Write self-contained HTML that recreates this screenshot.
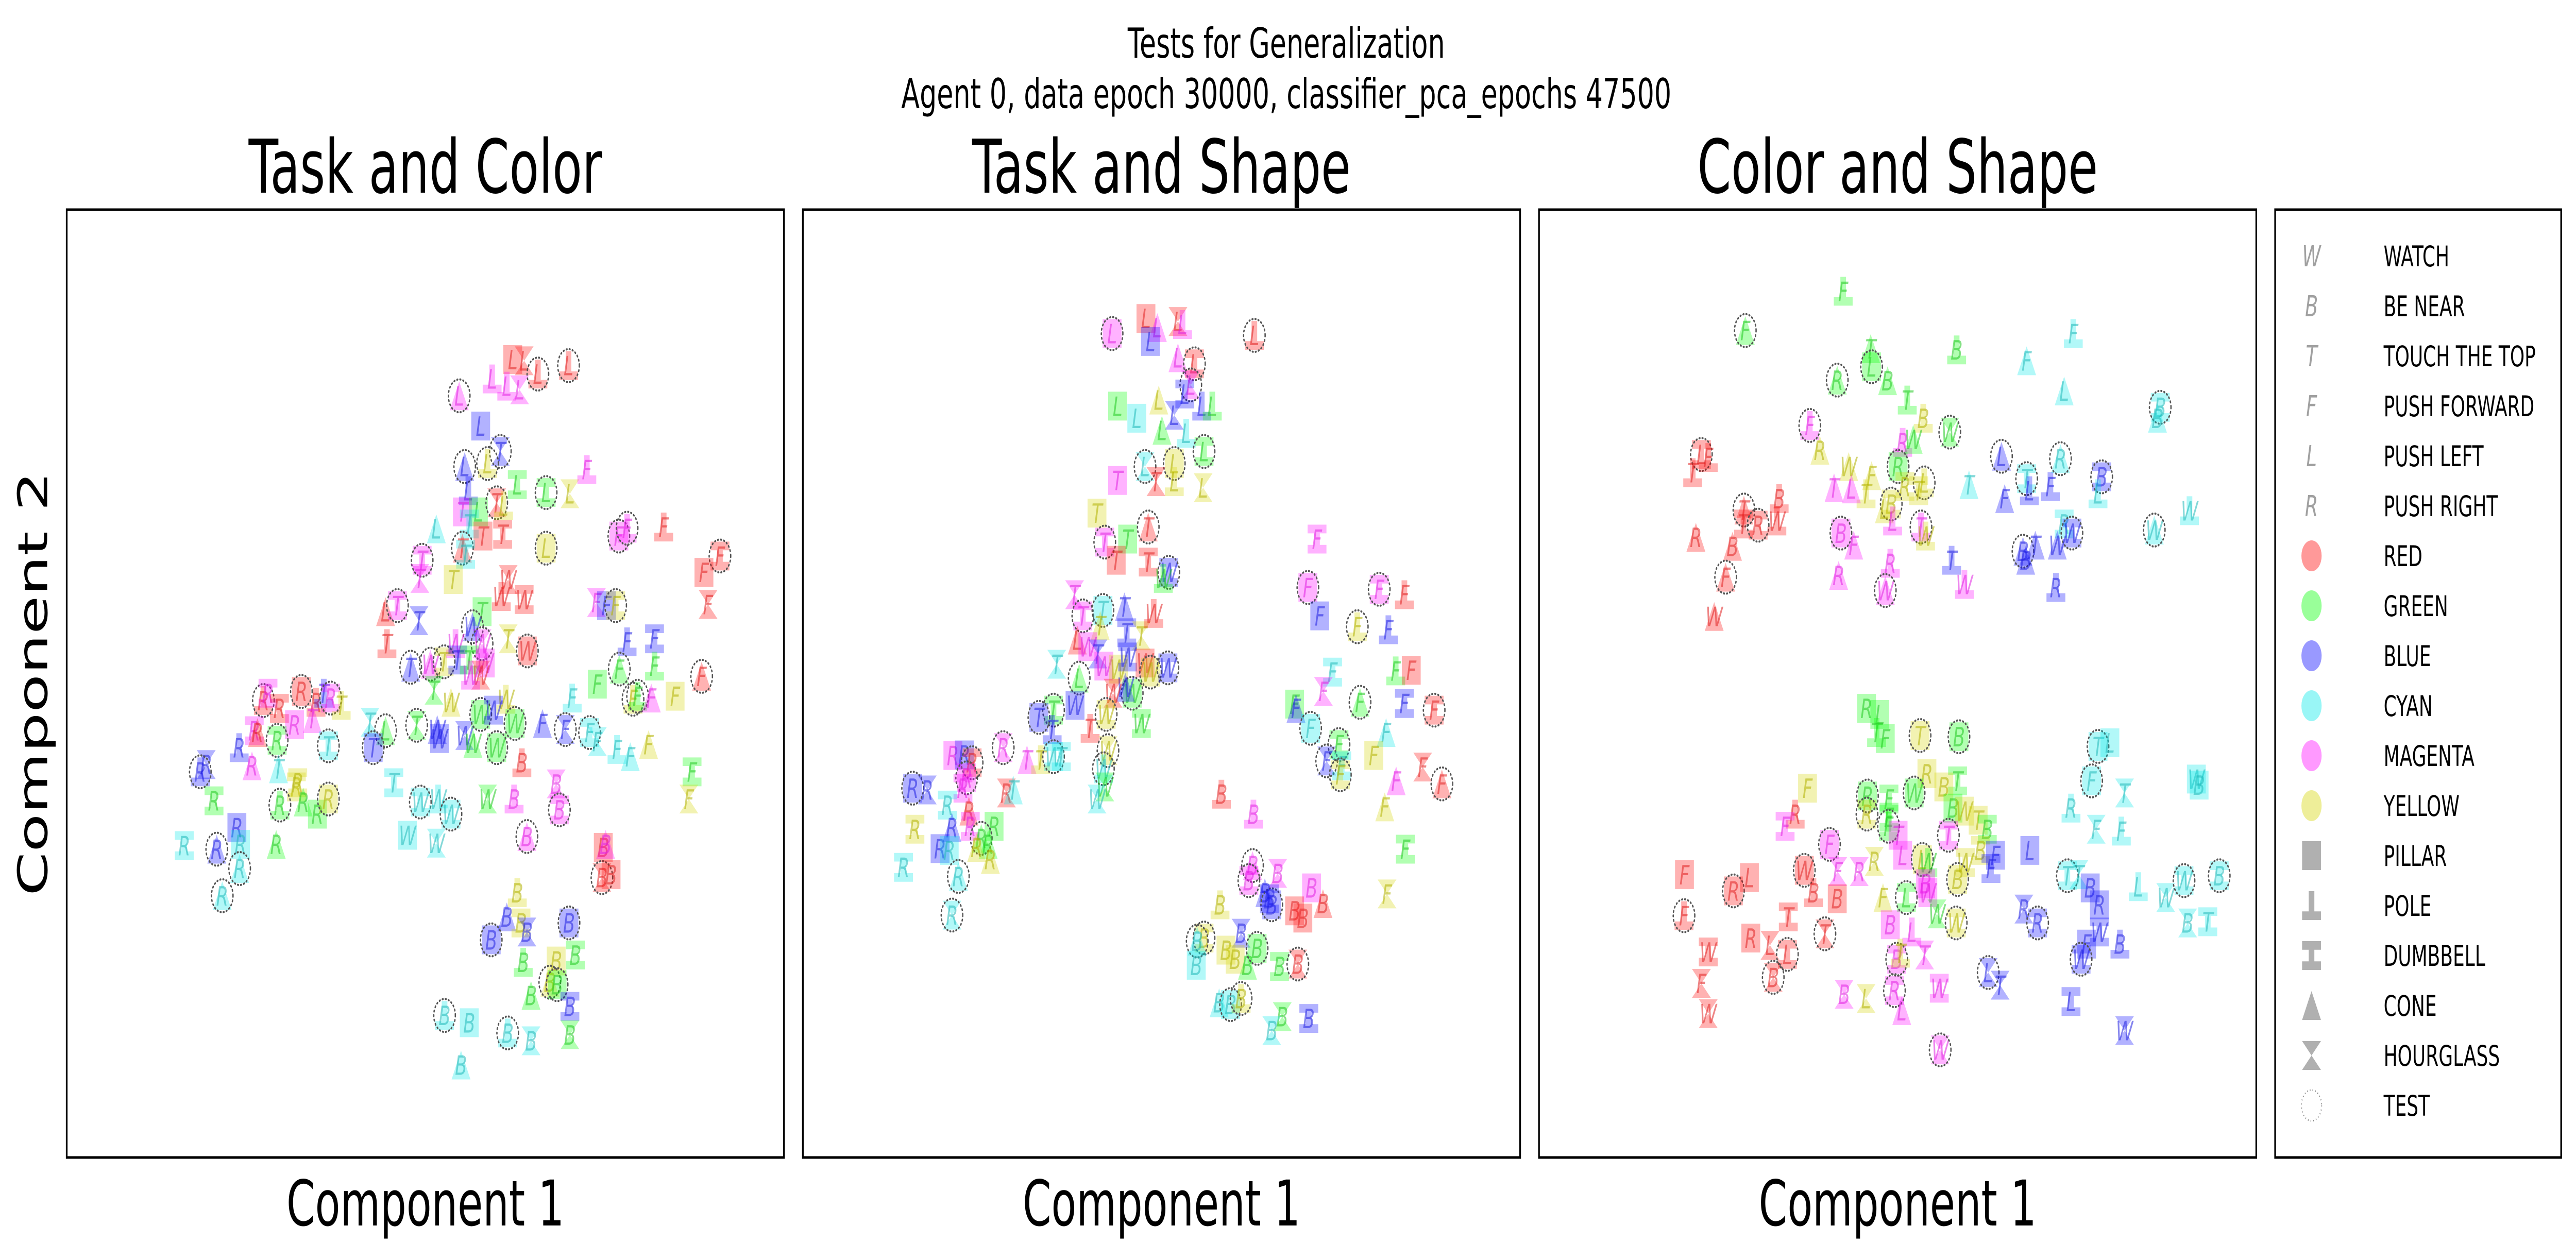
<!DOCTYPE html>
<html><head><meta charset="utf-8"><title>Tests for Generalization</title>
<style>html,body{margin:0;padding:0;background:#fff;width:100%;height:100%;overflow:hidden}svg{display:block;width:100vw;height:100vh}</style></head>
<body>
<svg id="fig" xmlns="http://www.w3.org/2000/svg" viewBox="0 0 7646 2446" preserveAspectRatio="none" font-family="'DejaVu Sans','Liberation Sans',sans-serif">
<rect width="7646" height="2446" fill="#fff"/>
<text x="3818" y="112" font-size="80" text-anchor="middle">Tests for Generalization</text>
<text x="3818" y="210" font-size="80" text-anchor="middle">Agent 0, data epoch 30000, classifier_pca_epochs 47500</text>
<text transform="translate(140,1327) rotate(-90)" font-size="122" text-anchor="middle">Component 2</text>
<g id="panels"></g>
<g id="legend"></g>
</svg>
<script>
const panel1Points = [
"975 248 rLs0","1000 250 rLh0","1030 272 rLp1","1097 258 rLp1","930 280 mLp0","962 292 mLp0","990 298 mLh0","858 308 mLc1",
"905 358 bLs0","948 400 bTh1","870 425 bLc1","920 420 yLp1","985 455 gLd0","1048 468 gLd1","1100 470 yLh0","1137 430 mFp0",
"878 465 bLp0","865 500 mTs0","900 500 gLs0","940 485 rTh1","955 490 yLp0","880 520 cTd0","910 540 rTs0","953 537 rTd0",
"808 528 cLc0","865 560 rTc1","872 570 cTd0","1048 560 yLs1","1207 540 mFs1","1225 527 mFp1","1305 525 rFp0","1428 573 rFd1",
"1393 600 rFs0","1402 653 rFh0","777 580 mTd1","772 610 mTh0","845 612 yTs0","965 612 rWh0","950 640 rWp0","1000 645 rWd0",
"697 665 rLc0","723 655 mTd1","770 680 bTh0","908 665 gTs0","887 690 bWc1","965 710 yTh0","1007 730 rWs1","700 718 rTp0",
"850 718 mWp0","908 718 mWh1","1158 650 mFh0","1180 655 bFs0","1200 655 yFd1","1225 715 bFp0","1285 710 bFd0","752 757 bTc1",
"795 752 mWc1","825 748 yTd1","855 745 bTd0","880 745 gTd0","915 750 mWs0","905 770 rWh0","883 770 mWp0","803 795 gTh0",
"840 815 yWc0","960 810 yWp0","1208 760 gFc1","1285 755 gFp0","1388 772 rFc1","1160 785 gFs0","1238 810 yFp1","1248 805 gFp1",
"1278 808 mFc0","1330 805 yFs0","1105 808 cFp0","430 812 rRp1","440 800 mRd0","465 825 rRd0","513 797 rRs1","545 815 rRp0",
"562 800 bTp0","577 808 mRd1","600 820 yTp0","498 852 mRs0","537 842 mTc0","410 862 mRd0","417 865 rRc0","377 890 bRp0",
"460 878 gRd1","572 887 cTd1","663 848 cTh0","697 862 gLc1","670 890 bTs1","765 853 gTh1","810 860 bWc0","815 875 bWs0",
"870 870 bWh0","905 835 gWs1","933 828 bWd0","980 850 gWs1","940 890 gWs1","888 883 gWc0","1040 850 bFc0","1090 860 bFh1",
"1143 865 cFd1","1160 880 cFh0","1203 893 cFp0","1232 905 cFc0","1272 885 yFc0","1367 930 gFd0","1360 975 yFh0","305 918 bRh0",
"292 930 bRp1","405 920 mRc0","463 925 cTc0","502 955 yRd0","505 948 yRd0","322 978 gRd0","466 985 gRp1","517 980 gRc0",
"548 1000 gRs0","572 975 yRs1","715 948 cTd0","773 980 cWd1","812 975 cWp0","840 1000 cWd1","745 1035 cWs0","808 1048 cWh0",
"920 975 gWh0","978 975 mBp0","995 915 rBp0","1070 950 mBh0","1077 993 mBd1","1006 1037 mBc1","372 1022 bRs0","380 1050 cRs0",
"328 1058 bRc1","257 1052 cRd0","458 1050 gRc0","378 1090 cRc1","340 1135 cRc1","1173 1055 rBs0","1178 1050 mBc0","1170 1105 rBh1",
"1190 1100 rBs0","985 1130 yBp0","962 1170 bBc0","993 1180 yBd0","1006 1195 bBh0","928 1208 bBs1","1098 1180 bBs1","1112 1233 gBd0",
"1070 1243 yBs0","998 1245 gBp0","1056 1278 yBc1","1072 1282 gBs1","1015 1300 gBc0","1100 1318 bBd0","1100 1365 gBh0","826 1333 cBp1",
"880 1345 cBs0","964 1362 cBp1","1015 1375 cBh0","862 1415 cBc0"
];
const panel2Points = [
"750 180 rLs0","775 195 mLc0","820 185 rLh0","830 190 mLp0","676 205 mLs1","760 218 bLs0","987 208 rLp1","820 245 mLc0",
"856 255 rLd1","848 290 mLh1","835 305 bLd0","872 325 bLp0","895 325 gLp0","688 325 gLs0","730 345 cLs0","778 315 yLc0",
"812 340 bLh0","785 365 gLc0","838 370 cLp0","877 400 gLd1","748 425 cLh1","812 420 yLs1","772 450 rTh0","812 450 yLp0",
"875 460 yLh0","688 448 mTs0","643 502 yTs0","710 545 gTs0","755 525 rTc1","660 550 mTd1","685 580 rTs0","755 583 rTd0",
"800 600 bWd1","788 610 gWp0","594 637 mTh0","612 672 mTd1","656 663 cTs1","650 688 yTc0","703 657 bTc0","708 700 bTd0",
"740 705 yTh0","767 668 rWp0","600 712 rLc0","623 723 mWs0","645 735 bTh0","604 775 gLc1","555 752 cTh0","658 755 mWs0",
"690 760 yWs0","710 740 bWd0","748 750 rWs0","760 765 yWs1","798 758 bWd1","720 800 gWs1","705 790 bWc0","678 800 rWh0",
"595 820 bWs0","548 828 gTd1","516 840 bTs1","545 860 bTp0","628 858 rTp0","663 835 yWd1","740 850 gWd0","667 895 yWh1",
"657 925 cWp1","660 955 gWh0","643 975 cWh0","490 910 mTc0","520 910 yTp0","548 905 cWd1","565 905 cTd0","438 890 mRh1",
"328 903 mRs0","353 902 bRs0","370 915 rRd1","358 940 mRs1","350 957 mRd0","240 957 bRs1","272 960 bRh0","316 985 cRd0",
"445 965 rRh0","460 960 cTc0","363 995 rRc0","326 1022 bRc0","366 1020 mRd0","245 1025 yRd0","418 1020 gRs0","390 1040 gRc1",
"405 1050 gRc0","380 1055 yRc0","410 1075 yRc0","300 1057 bRs0","320 1060 cRs0","220 1088 cRd0","340 1103 cRc1","326 1167 cRh1",
"1124 545 mFd0","1104 625 mFs1","1130 672 bFs0","1260 628 mFd1","1315 637 rFp0","1212 690 yFp1","1280 695 bFp0","1158 765 cFd0",
"1296 763 gFp0","1330 762 rFs0","1138 797 mFh0","1075 818 gFs0","1078 825 bFc0","1218 815 gFc1","1315 817 bFd0","1380 828 rFd1",
"1110 858 cFs1","1275 865 cFc0","1172 885 gFd1","1145 912 bFh1","1178 920 cFd0","1175 935 yFd1","1248 903 yFs0","1355 922 rFh0",
"1397 950 rFc1","1297 945 mFc0","1272 988 yFc0","1317 1058 gFd0","1277 1132 yFh0","915 967 rBp0","985 1000 mBp0","983 1085 mBc1",
"975 1110 mBd1","1038 1098 mBh0","1112 1122 mBs0","1010 1130 bBc0","1025 1150 bBs1","1020 1140 bBd0","1075 1160 rBs0","1093 1172 rBs0",
"1137 1148 rBc0","912 1150 yBp0","877 1205 yBd1","862 1210 cBc1","860 1250 cBs0","958 1197 bBh0","925 1225 yBs0","945 1240 yBs0",
"972 1250 gBc0","993 1222 gBs1","1042 1252 gBd0","1082 1248 rBh1","910 1312 cBc0","935 1315 cBs1","958 1305 yBp1","1048 1335 gBh0",
"1106 1338 bBd0","1025 1358 cBh0"
];
const panel3Points = [
"665 135 gFp0","451 200 gFc1","725 230 gTc0","727 260 gLs1","762 283 gBc0","652 282 gRc1","913 232 gBp0","1066 250 cFc0",
"1168 205 cFp0","1148 300 cLc0","1358 327 cBd1","1352 345 cBc0","805 315 gTp0","840 345 yBp0","898 368 gWh1","592 357 mFp1",
"614 398 yRc0","355 405 rLd1","370 410 rFp0","336 435 rTp0","677 425 yWc0","727 440 yFc0","715 470 yTp0","645 460 mTc0",
"683 462 mLc0","795 385 mRp0","818 380 gWc0","785 425 gRs1","842 452 yLp1","800 458 yRd0","830 465 yTd0","770 487 yBd1",
"755 495 yLc0","773 515 mLp0","835 525 mTp1","845 540 yWp0","940 455 cTc0","1011 408 bLc1","1018 478 bFc0","1066 445 cTd1",
"1072 465 bLp0","1118 458 bFp0","1140 412 cRc1","1230 442 bBd1","1222 470 cLp0","448 497 rTc1","447 520 rTd0","479 522 rRd1",
"525 478 rBp0","520 515 rWp0","343 542 rRc0","423 557 rBc0","408 608 rFc1","383 673 rWc0","660 535 mBs1","688 555 mFc0",
"655 605 mRc0","768 585 mRp0","757 630 mWc1","902 580 bTp0","930 620 mWp0","1148 520 cRd0","1165 535 bWd1","1133 555 bWc0",
"1058 565 bBc1","1085 555 bTc0","1064 580 bBc0","1130 625 bRp0","1345 530 cWc1","1422 498 cWp0","716 825 gRs0","745 835 gLs0",
"738 865 gTp0","757 875 gFs0","833 870 yTs1","918 872 gBs1","1222 888 cTs1","1248 882 cLs0","587 957 yFs0","848 933 yRs0",
"915 945 gTd0","885 955 yBs0","820 965 gWs1","718 970 gRs1","765 975 gFd0","905 990 gBs0","930 995 yWs0","717 1000 yRd1",
"765 1005 gFd0","960 1010 yTs0","980 1025 gBd0","1208 945 cFs1","1280 965 cTh0","1163 990 cRp0","1437 942 cWs0","1443 952 cBs0",
"560 1000 rRp0","538 1020 mFd0","635 1050 mFs1","764 1020 gFp1","785 1035 mTs0","895 1035 mTd1","965 1060 yBd0","998 1068 bFs0",
"988 1090 bFd0","1073 1060 bLs0","1218 1025 cFh0","1273 1028 cFp0","733 1078 yRh0","795 1068 mLs0","838 1075 yLs1","850 1080 gWp0",
"932 1080 yWd0","915 1108 yBs1","653 1095 mFh0","700 1095 mRh0","580 1093 rWs1","318 1100 rFs0","425 1127 rRs1","460 1105 rLs0",
"600 1130 rBp0","652 1140 rBs0","845 1115 mBs0","850 1130 mWs0","752 1138 yFc0","803 1138 gLd1","870 1165 gWh0","912 1180 yWd1",
"1060 1157 bRh0","1090 1180 bRd1","1155 1102 cTd1","1180 1100 cTh0","1205 1122 bBs0","1225 1150 bRs0","1310 1120 cLp0","1370 1138 cWh0",
"1410 1110 cWd1","1487 1102 cBd1","1418 1180 cBh0","1462 1178 cTd0","1225 1195 bWd0","1270 1215 bBp0","1197 1215 bFs0","1185 1240 bWd1",
"317 1168 rFp1","463 1205 rRs0","505 1217 rLh0","545 1170 rTd0","543 1232 rLd1","625 1198 rTh1","370 1228 rWd0","355 1280 rFh0",
"512 1270 rBh1","370 1330 rWh0","768 1183 mBs0","815 1195 mLp0","843 1233 mTh0","782 1240 mBd1","790 1230 yTp0","667 1298 mBh0",
"715 1305 yLh0","777 1292 mRd1","793 1325 mLc0","875 1288 mWd0","982 1262 bLh1","1008 1283 bTh0","1163 1310 bLd0","1280 1358 bWh0",
"877 1390 mWh1"
];
const panelTitles = ["Task and Color", "Task and Shape", "Color and Shape"];
const legendTasks = ["W","B","T","F","L","R"];
const legendTaskNames = ["WATCH","BE NEAR","TOUCH THE TOP","PUSH FORWARD","PUSH LEFT","PUSH RIGHT"];
const legendColors = ["r","g","b","c","m","y"];
const legendColorNames = ["RED","GREEN","BLUE","CYAN","MAGENTA","YELLOW"];
const legendShapes = ["s","p","d","c","h"];
const legendShapeNames = ["PILLAR","POLE","DUMBBELL","CONE","HOURGLASS"];

const allPanels = [panel1Points, panel2Points, panel3Points];
const xValues = allPanels.map(p => p.map(s => +s.split(" ")[0]));
const yValues = allPanels.map(p => p.map(s => +s.split(" ")[1]));
const colorCodes = allPanels.map(p => p.map(s => s.split(" ")[2][0]));
const taskCodes = allPanels.map(p => p.map(s => s.split(" ")[2][1]));
const shapeCodes = allPanels.map(p => p.map(s => s.split(" ")[2][2]));
const testFlags = allPanels.map(p => p.map(s => s.split(" ")[2][3] === "1"));

const NS = "http://www.w3.org/2000/svg";
const FILL = {r:"#ff0000", g:"#00ff00", b:"#0000ff", c:"#00e8e8", m:"#ff00ff", y:"#d4d400"};
const TXT  = {r:"#e02020", g:"#20c820", b:"#2020e0", c:"#20b8b8", m:"#e020e0", y:"#b0b000"};
const PANEL_LEFT = [198, 2383, 4568], PANEL_TOP = 407, PANEL_W = 2129, PANEL_H = 1840, DOMAIN = 1568;
function xScale(i, v){ return PANEL_LEFT[i] + v / DOMAIN * PANEL_W; }
function yScale(v){ return PANEL_TOP + v / DOMAIN * PANEL_H; }
function mk(tag, attrs, parent){ const e = document.createElementNS(NS, tag); for (const k in attrs) e.setAttribute(k, attrs[k]); if (parent) parent.appendChild(e); return e; }
function shapePath(code, cx, cy, h){
  const t = h * 0.3, w = h * 0.3;
  if (code === "s") return `M${cx-h} ${cy-h}H${cx+h}V${cy+h}H${cx-h}Z`;
  if (code === "p") return `M${cx-w} ${cy-h}H${cx+w}V${cy+h-2*t}H${cx+h}V${cy+h}H${cx-h}V${cy+h-2*t}H${cx-w}Z`;
  if (code === "d") return `M${cx-h} ${cy-h}H${cx+h}V${cy-h+2*t}H${cx+w}V${cy+h-2*t}H${cx+h}V${cy+h}H${cx-h}V${cy+h-2*t}H${cx-w}V${cy-h+2*t}H${cx-h}Z`;
  if (code === "c") return `M${cx} ${cy-h}L${cx+h} ${cy+h}H${cx-h}Z`;
  return `M${cx-h} ${cy-h}H${cx+h}L${cx} ${cy}L${cx+h} ${cy+h}H${cx-h}L${cx} ${cy}Z`;
}
const panelsG = document.getElementById("panels");
for (let i = 0; i < 3; i++){
  const g = mk("g", {}, panelsG);
  
  
  const title = mk("text", {x: PANEL_LEFT[i] + PANEL_W/2, y: 374, "font-size": 144, "text-anchor": "middle"}, g);
  title.textContent = panelTitles[i];
  
  
  const xl = mk("text", {x: PANEL_LEFT[i] + PANEL_W/2, y: 2379, "font-size": 122, "text-anchor": "middle"}, g);
  xl.textContent = "Component 1";
  
  
  const pts = mk("g", {}, g);
  
  
  for (let j = 0; j < xValues[i].length; j++){
    const cx = xScale(i, xValues[i][j]), cy = yScale(yValues[i][j]);
    const m = mk("g", {}, pts);
    
    
    mk("path", {d: shapePath(shapeCodes[i][j], cx, cy, 28), fill: FILL[colorCodes[i][j]], "fill-opacity": 0.3}, m);
    const t = mk("text", {x: cx, y: cy + 19, "font-size": 52, "font-style": "italic", "text-anchor": "middle", fill: TXT[colorCodes[i][j]], "fill-opacity": 0.55}, m);
    t.textContent = taskCodes[i][j];
    if (testFlags[i][j]) mk("circle", {cx: cx, cy: cy, r: 32, fill: "none", stroke: "#555", "stroke-width": 4, "stroke-dasharray": "2 7", "stroke-linecap": "round"}, m);
  }
  const frame = mk("rect", {x: PANEL_LEFT[i], y: PANEL_TOP, width: PANEL_W, height: PANEL_H, fill: "none", stroke: "#000", "stroke-width": 5}, g);
  
  
}
const lg = document.getElementById("legend");
mk("rect", {x: 6753, y: 407, width: 849, height: 1840, fill: "#fff", stroke: "#000", "stroke-width": 5}, lg);
const LX = 6861, TX = 7075, LY0 = 497, LDY = 97;
let row = 0;
function legendLabel(name, y){
  const t = mk("text", {x: TX, y: y + 20, "font-size": 55}, lg);
  t.textContent = name;
  
  
}
for (let k = 0; k < legendTasks.length; k++, row++){
  const y = LY0 + row * LDY;
  const s = mk("text", {x: LX, y: y + 20, "font-size": 56, "font-style": "italic", "text-anchor": "middle", fill: "#a0a0a0"}, lg);
  s.textContent = legendTasks[k];
  
  
  legendLabel(legendTaskNames[k], y);
}
for (let k = 0; k < legendColors.length; k++, row++){
  const y = LY0 + row * LDY;
  const c = mk("circle", {cx: LX, cy: y, r: 30, fill: FILL[legendColors[k]], "fill-opacity": 0.4}, lg);
  
  
  legendLabel(legendColorNames[k], y);
}
for (let k = 0; k < legendShapes.length; k++, row++){
  const y = LY0 + row * LDY;
  const p = mk("path", {d: shapePath(legendShapes[k], LX, y, 28), fill: "#b0b0b0"}, lg);
  
  
  legendLabel(legendShapeNames[k], y);
}
{
  const y = LY0 + row * LDY;
  const c = mk("circle", {cx: LX, cy: y, r: 30, fill: "none", stroke: "#888", "stroke-width": 3, "stroke-dasharray": "2 6"}, lg);
  
  
  legendLabel("TEST", y);
}
</script>
</body></html>
